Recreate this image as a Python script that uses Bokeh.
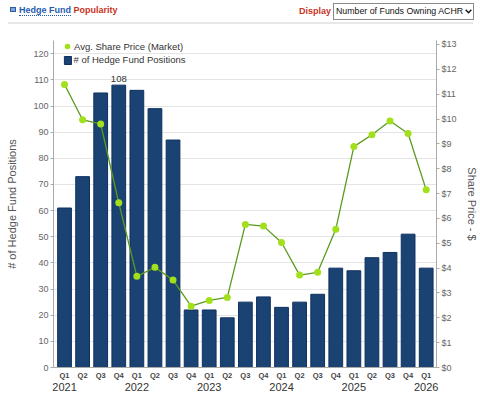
from bokeh.plotting import figure
from bokeh.layouts import column
from bokeh.models import (Range1d, LinearAxis, FixedTicker, PrintfTickFormatter,
                          Label, ColumnDataSource, Legend, LegendItem, Div)
from bokeh.embed import file_html
from bokeh.resources import INLINE

quarters = ["Q1", "Q2", "Q3", "Q4", "Q1", "Q2", "Q3", "Q4", "Q1", "Q2", "Q3",
            "Q4", "Q1", "Q2", "Q3", "Q4", "Q1", "Q2", "Q3", "Q4", "Q1"]
years = ["2021", "2022", "2023", "2024", "2025", "2026"]
positions = [61, 73, 105, 108, 106, 99, 87, 22, 22, 19, 25, 27, 23, 25, 28,
             38, 37, 42, 44, 51, 38]
prices = [11.39, 9.97, 9.80, 6.63, 3.67, 4.03, 3.52, 2.47, 2.70, 2.82, 5.76,
          5.69, 5.03, 3.72, 3.83, 5.56, 8.89, 9.37, 9.92, 9.42, 7.15]

FONT = "Liberation Sans"
NAVY = "#1a4272"
LIME = "#a3e01c"
GREEN = "#5b9a1f"
AXIS = "#aaaaaa"

idx = list(range(len(quarters)))
src = ColumnDataSource(dict(x=idx, pos=positions, price=prices))

# ---------- header ----------
chevron = ('<svg width="7" height="5" style="vertical-align:middle;margin-left:2px">'
           '<polyline points="0.7,0.7 3.5,3.7 6.3,0.7" fill="none" stroke="#111" '
           'stroke-width="1.4"/></svg>')
header_html = f"""
<div style="position:relative;width:480px;height:26px;font-family:'{FONT}',Arial,sans-serif;">
  <div style="position:absolute;left:10px;top:7px;width:6px;height:5px;background:#7ea3dc;
              border:1px solid #2f5da3;"></div>
  <div style="position:absolute;left:19px;top:5px;font-size:9px;font-weight:bold;line-height:11px;
              white-space:nowrap;">
    <span style="color:#1f5cb0;border-bottom:1px dotted #1f5cb0;">Hedge Fund</span>
    <span style="color:#c8321e;">Popularity</span>
  </div>
  <div style="position:absolute;right:6px;top:3px;height:17px;white-space:nowrap;display:flex;
              align-items:center;">
    <span style="font-size:9px;font-weight:bold;color:#c8321e;margin-right:2px;">Display</span>
    <div style="width:141px;height:17px;border:1px solid #8a8a8a;background:#fff;font-size:8.8px;
                color:#111;line-height:15px;padding-left:2px;box-sizing:border-box;
                overflow:hidden;">Number of Funds Owning ACHR{chevron}</div>
  </div>
  <div style="position:absolute;left:8px;top:22px;width:465px;height:2px;background:#e8e8e8;"></div>
</div>
"""
header = Div(text=header_html, width=480, height=26, margin=(0, 0, 0, 0))

# ---------- chart ----------
p = figure(width=480, height=367, output_backend="svg", toolbar_location=None,
           x_range=Range1d(-0.61, 20.57), y_range=Range1d(0, 125.07),
           min_border_left=53, min_border_right=43, min_border_top=14,
           min_border_bottom=26, margin=(0, 0, 0, 0))
p.extra_y_ranges = {"price": Range1d(0, 13.16)}
p.outline_line_color = None

p.xgrid.visible = False
p.ygrid.grid_line_color = "#e4e4e4"
p.ygrid.ticker = FixedTicker(ticks=list(range(0, 130, 10)))


def style_axis(a, size="9px"):
    a.major_label_text_font = FONT
    a.major_label_text_font_size = size
    a.major_label_text_color = "#666666"
    a.axis_label_text_font = FONT
    a.axis_label_text_font_size = "11px"
    a.axis_label_text_font_style = "normal"
    a.axis_label_text_color = "#555555"
    a.major_tick_out = 3
    a.major_tick_in = 0
    a.minor_tick_out = 0
    a.minor_tick_in = 0
    a.major_label_standoff = 2
    a.axis_line_color = AXIS
    a.major_tick_line_color = AXIS


# left axis: fund positions
ax = p.yaxis[0]
style_axis(ax)
ax.ticker = FixedTicker(ticks=list(range(0, 130, 10)))
ax.axis_label = "# of Hedge Fund Positions"
ax.axis_label_standoff = 12

# right axis: share price
rax = LinearAxis(y_range_name="price", ticker=FixedTicker(ticks=list(range(0, 14))),
                 formatter=PrintfTickFormatter(format="$%d"))
style_axis(rax)
rax.axis_label = "Share Price - $"
rax.axis_label_standoff = 6
p.add_layout(rax, "right")

# bottom axis: quarters
bx = p.xaxis[0]
bx.ticker = FixedTicker(ticks=idx)
bx.major_label_overrides = {i: q for i, q in enumerate(quarters)}
bx.major_label_text_font = FONT
bx.major_label_text_font_size = "7.5px"
bx.major_label_text_font_style = "bold"
bx.major_label_text_color = "#444444"
bx.major_tick_out = 0
bx.major_tick_in = 0
bx.minor_tick_out = 0
bx.minor_tick_in = 0
bx.major_label_standoff = 3
bx.axis_line_color = AXIS

# second bottom axis: year under each Q1
q1 = [i for i, q in enumerate(quarters) if q == "Q1"]
yx = LinearAxis(ticker=FixedTicker(ticks=q1),
                major_label_overrides={i: y for i, y in zip(q1, years)})
yx.major_label_text_font = FONT
yx.major_label_text_font_size = "11px"
yx.major_label_text_color = "#333333"
yx.major_tick_out = 0
yx.major_tick_in = 0
yx.minor_tick_out = 0
yx.minor_tick_in = 0
yx.axis_line_color = None
yx.major_label_standoff = 0
p.add_layout(yx, "below")

# bars
bars = p.vbar(x="x", top="pos", width=0.76, source=src, fill_color=NAVY,
              line_color="#0e3160", line_width=1)

# price line with markers
p.line(x="x", y="price", source=src, y_range_name="price", line_color=GREEN,
       line_width=1.3)
dots = p.scatter(x="x", y="price", source=src, y_range_name="price", size=7,
                 fill_color=LIME, line_color=None)

# peak value label
peak = max(positions)
p.add_layout(Label(x=positions.index(peak), y=peak, text=str(peak), y_offset=3,
                   text_align="center", text_baseline="bottom",
                   text_font=FONT, text_font_size="9.5px", text_color="#333333"))

# legends, placed in screen pixels from the frame's lower-left corner
common = dict(orientation="vertical", background_fill_alpha=0, border_line_color=None,
              label_text_font=FONT, label_text_font_size="9.5px",
              label_text_color="#333333", padding=0, margin=0, spacing=0)
leg_price = Legend(items=[LegendItem(label="Avg. Share Price (Market)", renderers=[dots])],
                   location=(7, 314), glyph_width=14, glyph_height=14,
                   label_height=14, label_standoff=0, **common)
leg_pos = Legend(items=[LegendItem(label="# of Hedge Fund Positions", renderers=[bars])],
                 location=(9.5, 302), glyph_width=9, glyph_height=10,
                 label_height=10, label_standoff=2, **common)
p.add_layout(leg_price, "center")
p.add_layout(leg_pos, "center")

layout = column(header, p, spacing=0, margin=(0, 0, 0, 0))
open("out.html", "w").write(file_html(layout, INLINE))
